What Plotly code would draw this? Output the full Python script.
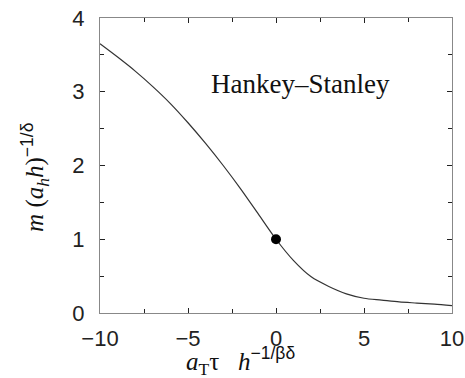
import plotly.graph_objects as go

x_vals = [-10, -9, -8, -7, -6, -5, -4, -3, -2, -1, 0, 1, 2, 3, 4, 5, 6, 7, 8, 9, 10]
y_vals = [3.65, 3.47, 3.28, 3.07, 2.84, 2.58, 2.30, 2.00, 1.68, 1.34, 1.00, 0.71, 0.49, 0.36, 0.26, 0.20, 0.175, 0.15, 0.135, 0.12, 0.10]
dot_x = [0]
dot_y = [1]
x_ticks = [-10, -5, 0, 5, 10]
y_ticks = [0, 1, 2, 3, 4]
label_text = "Hankey\u2013Stanley"

fig = go.Figure()
fig.add_trace(go.Scatter(x=x_vals, y=y_vals, mode="lines", line=dict(color="#333333", width=1.2, shape="spline", smoothing=0.8), showlegend=False))
fig.add_trace(go.Scatter(x=dot_x, y=dot_y, mode="markers", marker=dict(color="black", size=10), showlegend=False))

axis_common = dict(showgrid=False, zeroline=False, showline=True, linecolor="#888888", linewidth=1.2,
                   mirror="ticks", ticks="inside", ticklen=5, tickcolor="#222222", tickwidth=1,
                   automargin=False,
                   tickfont=dict(family="Liberation Sans, Arial", size=22, color="#222222"))
fig.update_xaxes(range=[-10, 10], tickvals=x_ticks, ticklabelstandoff=5,
                 minor=dict(dtick=2.5, ticks="inside", ticklen=4, tickcolor="#222222"), **axis_common)
fig.update_yaxes(range=[0, 4], tickvals=y_ticks, ticklabelstandoff=10,
                 minor=dict(dtick=0.5, ticks="inside", ticklen=4, tickcolor="#222222"), **axis_common)

serif = "Liberation Serif, Times New Roman"
fig.add_annotation(x=1.4, y=3.11, xref="x", yref="y", text=label_text, showarrow=False,
                   font=dict(family=serif, size=27, color="#111111"))
fig.add_annotation(xref="paper", yref="paper", x=(240 - 100) / 352, y=-0.095, yanchor="top",
                   text="<i>a</i><sub>T</sub><span style='font-family:serif'>\u03c4</span>   <i>h</i><sup><span style='font-family:Liberation Sans'>\u22121/\u03b2\u03b4</span></sup>",
                   showarrow=False, font=dict(family=serif, size=25, color="#111111"))
fig.add_annotation(xref="paper", yref="paper", x=-0.185, y=(313 - 177) / 295, xanchor="center",
                   text="<i>m</i> (<i>a<sub>h</sub>h</i>)<sup><span style='font-family:Liberation Sans'>\u22121/\u03b4</span></sup>",
                   textangle=-90, showarrow=False, font=dict(family=serif, size=25, color="#111111"))

fig.update_layout(width=465, height=378, margin=dict(l=100, r=13, t=18, b=65),
                  plot_bgcolor="white", paper_bgcolor="white")
fig.write_html("out.html")
